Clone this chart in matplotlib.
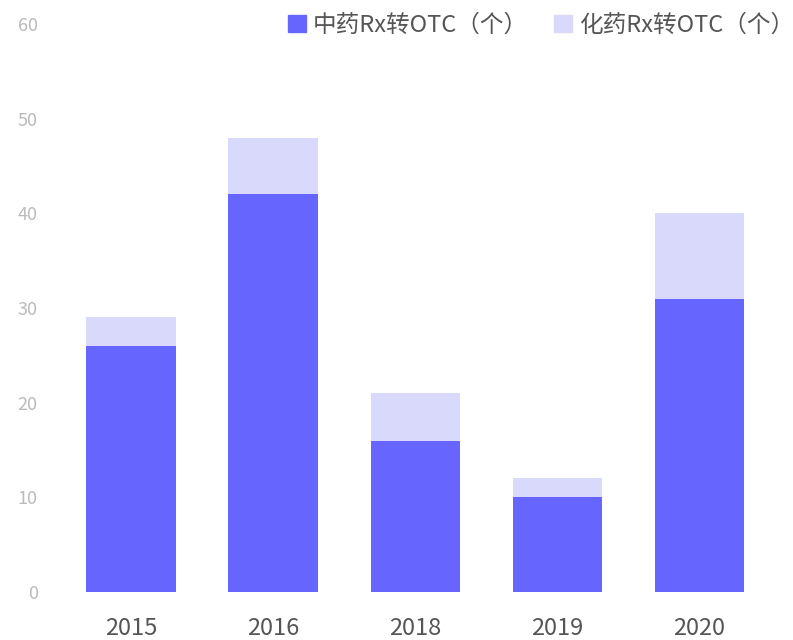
import numpy as np
import matplotlib.pyplot as plt
from matplotlib.patches import Patch

plt.rcParams['font.family'] = ['Noto Sans CJK SC', 'DejaVu Sans']

years = ['2015', '2016', '2018', '2019', '2020']
tcm = [26, 42, 16, 10, 31]      # 中药Rx转OTC
chem = [3, 6, 5, 2, 9]          # 化药Rx转OTC
yticks = [0, 10, 20, 30, 40, 50, 60]

c_dark = '#6666FF'
c_light = '#D9D9FB'

fig = plt.figure(figsize=(7.93, 6.4), dpi=100)
ax = fig.add_axes([0.0757, 0.075, 0.896, 0.8875])

x = np.arange(len(years))
ax.bar(x, tcm, width=0.63, color=c_dark)
ax.bar(x, chem, width=0.63, bottom=tcm, color=c_light)

ax.set_xlim(-0.5, len(years) - 0.5)
ax.set_ylim(0, 60)
ax.set_yticks(yticks)
ax.set_xticks(x)
ax.set_xticklabels(years, fontsize=17, color='#555555')
ax.tick_params(axis='y', labelsize=13, labelcolor='#BBBBBB', length=0, pad=16)
ax.tick_params(axis='x', length=0, pad=18)
for s in ax.spines.values():
    s.set_visible(False)

handles = [Patch(color=c_dark, label='中药Rx转OTC（个）'),
           Patch(color=c_light, label='化药Rx转OTC（个）')]
fig.legend(handles=handles, loc='upper right', bbox_to_anchor=(1.028, 1.012),
           ncol=2, frameon=False, handlelength=0.75, handleheight=0.75,
           handletextpad=0.3, columnspacing=1.1, labelcolor='#555555',
           prop={'size': 17, 'weight': 'medium'})

fig.savefig('out.png', dpi=100)
